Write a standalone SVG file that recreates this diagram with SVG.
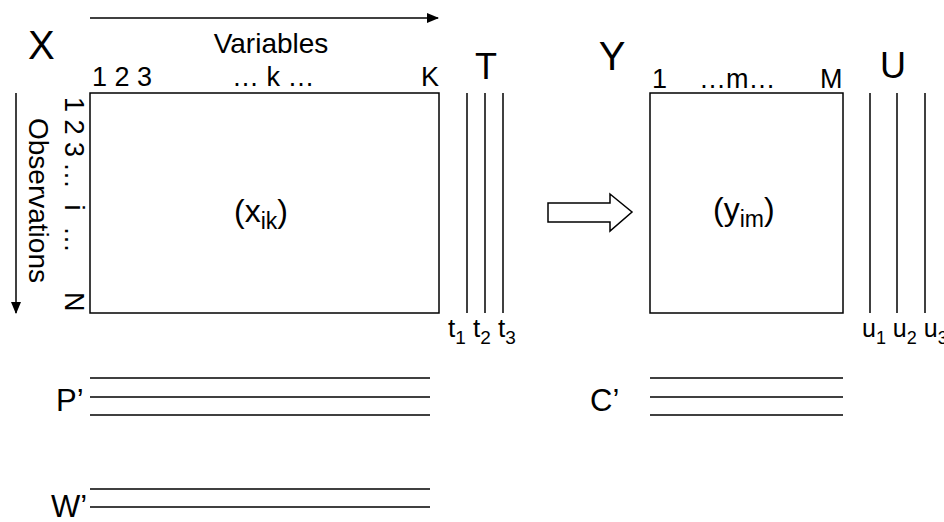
<svg xmlns="http://www.w3.org/2000/svg" width="944" height="522" viewBox="0 0 944 522">
<style>
text{font-family:"Liberation Sans",Arial,sans-serif;fill:#000}
.big{font-size:40px}
.mid{font-size:36px}
.lab{font-size:27px}
.sm{font-size:26px}
.ln{stroke:#000;stroke-width:1.5;fill:none}
</style>
<defs>
<marker id="ah" markerWidth="12" markerHeight="10" refX="11" refY="5" orient="auto" markerUnits="userSpaceOnUse">
<path d="M0,0 L12,5 L0,10 Z" fill="#000"/>
</marker>
</defs>
<g id="connectors">
<line class="ln" x1="90" y1="18" x2="438" y2="18" marker-end="url(#ah)"/>
<line class="ln" x1="16" y1="93" x2="16" y2="313" marker-end="url(#ah)"/>
<polygon class="ln" points="548,203 610,203 610,194 632,212 610,231 610,222 548,222"/>
</g>
<g id="matrixX">
<text class="big" x="28" y="59">X</text>
<text font-size="28" x="271" y="53" text-anchor="middle">Variables</text>
<text class="lab" x="92" y="86">1 2 3</text>
<text class="lab" x="232" y="86">… k …</text>
<text class="lab" x="421" y="86">K</text>
<text class="lab" transform="translate(65,97) rotate(90)">1 2 3</text>
<text class="lab" word-spacing="8" transform="translate(65,162) rotate(90)">… i …</text>
<text class="lab" transform="translate(65,292) rotate(90)">N</text>
<text font-size="28" transform="translate(29,118) rotate(90)">Observations</text>
<rect class="ln" x="90" y="93" width="349" height="220"/>
<text font-size="32" x="234" y="222">(x<tspan font-size="23" dy="7">ik</tspan><tspan dy="-7">)</tspan></text>
</g>
<g id="T">
<text class="mid" x="486" y="79" text-anchor="middle">T</text>
<line class="ln" x1="467" y1="93" x2="467" y2="313"/>
<line class="ln" x1="485" y1="93" x2="485" y2="313"/>
<line class="ln" x1="503" y1="93" x2="503" y2="313"/>
<text class="sm" x="448" y="337">t<tspan font-size="19" dy="7">1</tspan><tspan dy="-7"> t</tspan><tspan font-size="19" dy="7">2</tspan><tspan dy="-7"> t</tspan><tspan font-size="19" dy="7">3</tspan></text>
</g>
<g id="matrixY">
<text class="big" x="612" y="70" text-anchor="middle">Y</text>
<text class="lab" x="652" y="88">1</text>
<text class="lab" x="699" y="88">…m…</text>
<text class="lab" x="820" y="88">M</text>
<rect class="ln" x="650" y="93" width="193" height="220"/>
<text font-size="32" x="713" y="220">(y<tspan font-size="23" dy="7">im</tspan><tspan dy="-7">)</tspan></text>
</g>
<g id="U">
<text class="mid" x="893" y="78" text-anchor="middle">U</text>
<line class="ln" x1="870" y1="93" x2="870" y2="313"/>
<line class="ln" x1="897" y1="93" x2="897" y2="313"/>
<line class="ln" x1="925" y1="93" x2="925" y2="313"/>
<text font-size="25" x="862" y="337">u<tspan font-size="18" dy="7">1</tspan><tspan dy="-7"> u</tspan><tspan font-size="18" dy="7">2</tspan><tspan dy="-7"> u</tspan><tspan font-size="18" dy="7">3</tspan></text>
</g>
<g id="P">
<text font-size="31" x="56" y="411">P’</text>
<line class="ln" x1="90" y1="378" x2="430" y2="378"/>
<line class="ln" x1="90" y1="397" x2="430" y2="397"/>
<line class="ln" x1="90" y1="415" x2="430" y2="415"/>
</g>
<g id="W">
<text font-size="31" x="51" y="517">W’</text>
<line class="ln" x1="90" y1="489" x2="430" y2="489"/>
<line class="ln" x1="90" y1="507" x2="430" y2="507"/>
</g>
<g id="C">
<text font-size="31" x="590" y="411">C’</text>
<line class="ln" x1="650" y1="378" x2="843" y2="378"/>
<line class="ln" x1="650" y1="397" x2="843" y2="397"/>
<line class="ln" x1="650" y1="415" x2="843" y2="415"/>
</g>
</svg>
